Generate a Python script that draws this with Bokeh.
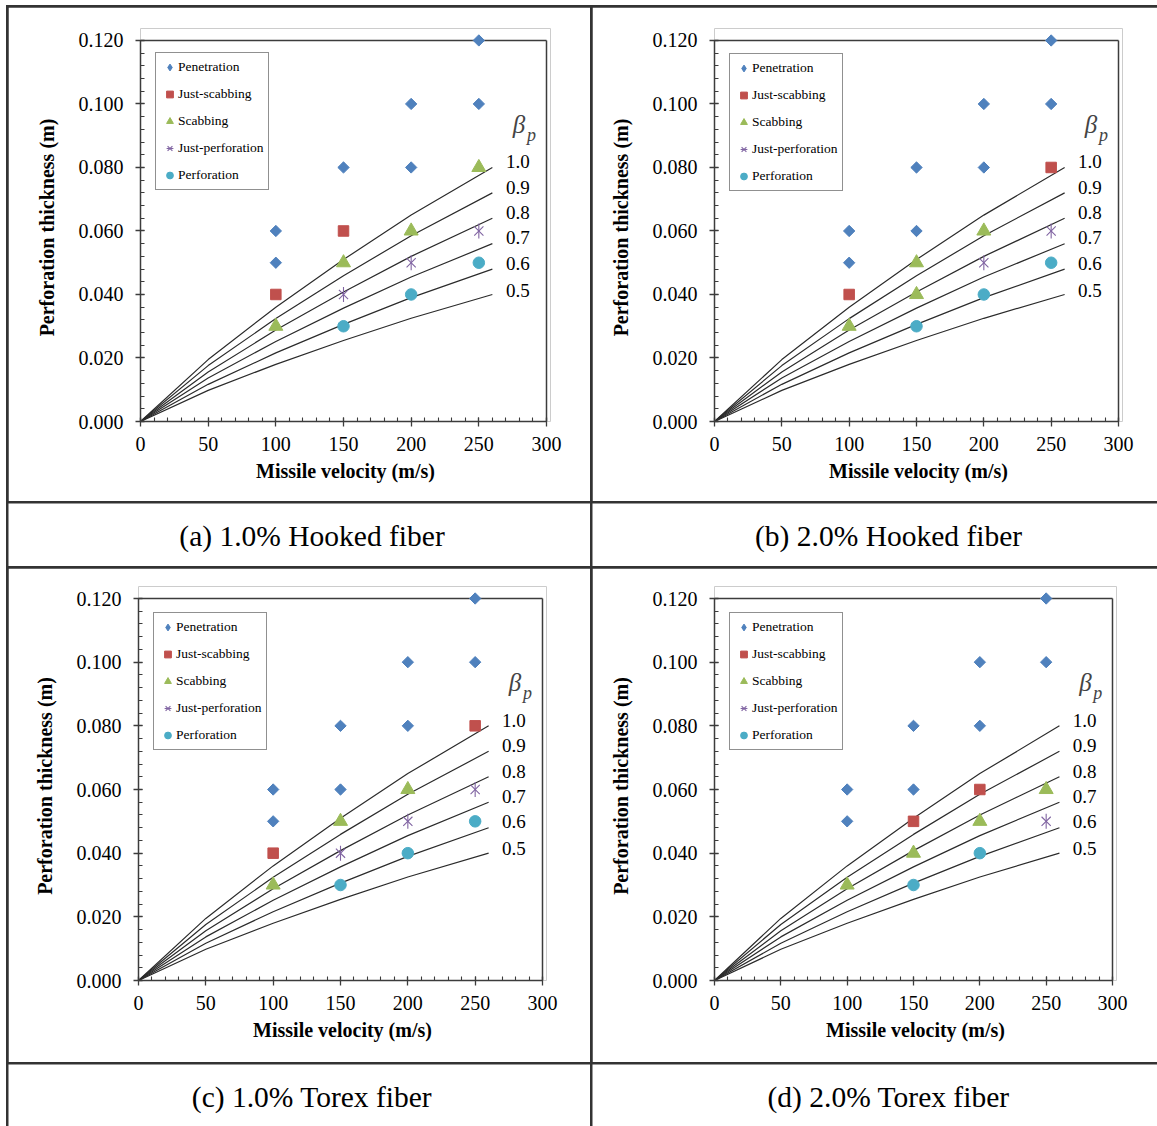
import math
from bokeh.plotting import figure
from bokeh.models import (FixedTicker, PrintfTickFormatter, Legend, LegendItem,
                          Label, Spacer, Range1d)
from bokeh.layouts import row, column
from bokeh.embed import file_html
from bokeh.resources import INLINE
from bokeh.core.properties import value

# ---------------- data ----------------
VEL_TICKS = [0, 50, 100, 150, 200, 250, 300]
THK_TICKS = [0.000, 0.020, 0.040, 0.060, 0.080, 0.100, 0.120]
VEL_MINOR = list(range(0, 301, 10))
THK_MINOR = [i * 0.004 for i in range(31)]

# beta_p curves
CURVE_V = [0, 50, 100, 150, 200, 260]
CURVE_10 = [0, 0.0195, 0.0360, 0.0510, 0.0650, 0.0800]
CURVE_09 = [0, 0.0176, 0.0324, 0.0459, 0.0585, 0.0720]
CURVE_08 = [0, 0.0156, 0.0288, 0.0408, 0.0520, 0.0640]
CURVE_07 = [0, 0.0137, 0.0252, 0.0357, 0.0455, 0.0560]
CURVE_06 = [0, 0.0117, 0.0216, 0.0306, 0.0390, 0.0480]
CURVE_05 = [0, 0.0098, 0.0180, 0.0255, 0.0325, 0.0400]
CURVES = [CURVE_10, CURVE_09, CURVE_08, CURVE_07, CURVE_06, CURVE_05]
BETA_LABELS = ["1.0", "0.9", "0.8", "0.7", "0.6", "0.5"]
BETA_LABEL_Y = [0.0818, 0.0738, 0.0657, 0.0578, 0.0498, 0.0414]

CATEGORIES = ["Penetration", "Just-scabbing", "Scabbing", "Just-perforation", "Perforation"]

PANEL_A = {
    "Penetration": ([100, 100, 150, 200, 200, 250, 250], [0.060, 0.050, 0.080, 0.100, 0.080, 0.120, 0.100]),
    "Just-scabbing": ([100, 150], [0.040, 0.060]),
    "Scabbing": ([100, 150, 200, 250], [0.030, 0.050, 0.060, 0.080]),
    "Just-perforation": ([150, 200, 250], [0.040, 0.050, 0.060]),
    "Perforation": ([150, 200, 250], [0.030, 0.040, 0.050]),
}
PANEL_B = {
    "Penetration": ([100, 100, 150, 150, 200, 200, 250, 250], [0.060, 0.050, 0.080, 0.060, 0.100, 0.080, 0.120, 0.100]),
    "Just-scabbing": ([100, 250], [0.040, 0.080]),
    "Scabbing": ([100, 150, 150, 200], [0.030, 0.050, 0.040, 0.060]),
    "Just-perforation": ([200, 250], [0.050, 0.060]),
    "Perforation": ([150, 200, 250], [0.030, 0.040, 0.050]),
}
PANEL_C = {
    "Penetration": ([100, 100, 150, 150, 200, 200, 250, 250], [0.060, 0.050, 0.080, 0.060, 0.100, 0.080, 0.120, 0.100]),
    "Just-scabbing": ([100, 250], [0.040, 0.080]),
    "Scabbing": ([100, 150, 200], [0.030, 0.050, 0.060]),
    "Just-perforation": ([150, 200, 250], [0.040, 0.050, 0.060]),
    "Perforation": ([150, 200, 250], [0.030, 0.040, 0.050]),
}
PANEL_D = {
    "Penetration": ([100, 100, 150, 150, 200, 200, 250, 250], [0.060, 0.050, 0.080, 0.060, 0.100, 0.080, 0.120, 0.100]),
    "Just-scabbing": ([150, 200], [0.050, 0.060]),
    "Scabbing": ([100, 150, 200, 250], [0.030, 0.040, 0.050, 0.060]),
    "Just-perforation": ([250], [0.050]),
    "Perforation": ([150, 200], [0.030, 0.040]),
}
CAPTIONS = ["(a) 1.0% Hooked fiber", "(b) 2.0% Hooked fiber",
            "(c) 1.0% Torex fiber", "(d) 2.0% Torex fiber"]

# ---------------- styles ----------------
SERIF = "Liberation Serif"
AXIS_COL = "#3c3c3c"
MARKERS = {
    "Penetration": [dict(marker="square", angle=math.pi / 4, size=8, fill_color="#4F81BD", line_color="#4F81BD")],
    "Just-scabbing": [dict(marker="square", angle=0, size=10.5, fill_color="#C0504D", line_color="#C0504D")],
    "Scabbing": [dict(marker="triangle", angle=0, size=14, fill_color="#9BBB59", line_color="#9BBB59")],
    "Just-perforation": [dict(marker="x", angle=0, size=13, line_color="#8064A2", line_width=1.1),
                         dict(marker="dash", angle=math.pi / 2, size=15, line_color="#8064A2", line_width=1.1)],
    "Perforation": [dict(marker="circle", angle=0, size=11.5, fill_color="#4BACC6", line_color="#4BACC6")],
}
# legend glyph (the legend does not rotate markers); drawn beneath the real marks
LEGEND_PROXY = {
    "Penetration": dict(marker="diamond", size=9, fill_color="#4F81BD", line_color="#4F81BD"),
}


def make_panel(data, W, H, L, FW, T, FH):
    pad_top = 12
    pad_right = 4
    b_top = T - pad_top
    f_h = FH + pad_top
    b_bottom = H - b_top - f_h
    f_w = FW + pad_right
    b_right = W - L - f_w
    y_end = THK_TICKS[-1] * f_h / FH
    x_end = VEL_TICKS[-1] * f_w / FW
    p = figure(width=W, height=H, output_backend="svg", toolbar_location=None,
               x_range=Range1d(0, x_end), y_range=Range1d(0, y_end),
               min_border_left=L, min_border_right=b_right,
               min_border_top=b_top, min_border_bottom=b_bottom)
    p.grid.visible = False
    p.outline_line_color = None
    p.background_fill_color = "white"
    p.border_fill_color = "white"

    # frame top / right lines
    p.line([VEL_TICKS[0], VEL_TICKS[-1]], [THK_TICKS[-1], THK_TICKS[-1]], line_color=AXIS_COL, line_width=1.5)
    p.line([VEL_TICKS[-1], VEL_TICKS[-1]], [THK_TICKS[0], THK_TICKS[-1]], line_color=AXIS_COL, line_width=1.5)

    for c in CURVES:
        p.line(CURVE_V, c, line_color="#2b2b2b", line_width=1.2)
    for lab, ly in zip(BETA_LABELS, BETA_LABEL_Y):
        p.add_layout(Label(x=270, y=ly, text=lab, text_font=SERIF, text_font_size="19px",
                           text_baseline="middle", text_align="left", text_color="black"))
    p.add_layout(Label(x=275, y=0.0935, text="β", text_font=SERIF, text_font_size="25px",
                       text_font_style="italic", text_baseline="middle", text_align="left"))
    p.add_layout(Label(x=285.5, y=0.0903, text="p", text_font=SERIF, text_font_size="18px",
                       text_font_style="italic", text_baseline="middle", text_align="left"))

    items = []
    for cat in CATEGORIES:
        xs, ys = data[cat]
        proxy = None
        if cat in LEGEND_PROXY:
            proxy = p.scatter(xs, ys, **LEGEND_PROXY[cat])
        rs = [p.scatter(xs, ys, **m) for m in MARKERS[cat]]
        if proxy is not None:
            rs = [proxy]
        items.append(LegendItem(label=cat, renderers=rs))

    pad = 5
    leg_h = 2 * pad + 5 * 18 + 4 * 9 + 2
    legend = Legend(items=items, location=(15, f_h - (pad_top + 14) - leg_h),
                    padding=pad, spacing=9, label_height=18, glyph_height=18, glyph_width=17,
                    label_standoff=0, label_text_font=SERIF, label_text_font_size="13.5px",
                    label_text_color="black", border_line_color="#222222", border_line_width=1.5,
                    background_fill_color="white", background_fill_alpha=1.0, margin=0)
    p.add_layout(legend)

    for ax in (p.xaxis[0], p.yaxis[0]):
        ax.axis_line_color = AXIS_COL
        ax.axis_line_width = 1.5
        ax.major_tick_line_color = AXIS_COL
        ax.major_tick_line_width = 1.3
        ax.minor_tick_line_color = AXIS_COL
        ax.minor_tick_line_width = 1.1
        ax.major_tick_in = 4
        ax.major_tick_out = 5
        ax.minor_tick_in = 4
        ax.minor_tick_out = 0
        ax.major_label_text_font = SERIF
        ax.major_label_text_font_size = "20px"
        ax.major_label_text_color = "black"
        ax.axis_label_text_font = SERIF
        ax.axis_label_text_font_size = "20px"
        ax.axis_label_text_font_style = "bold"
        ax.axis_label_text_color = "black"
    p.xaxis.ticker = FixedTicker(ticks=VEL_TICKS, minor_ticks=VEL_MINOR)
    p.yaxis.ticker = FixedTicker(ticks=THK_TICKS, minor_ticks=THK_MINOR)
    p.yaxis.formatter = PrintfTickFormatter(format="%.3f")
    p.xaxis.bounds = (VEL_TICKS[0], VEL_TICKS[-1])
    p.yaxis.bounds = (THK_TICKS[0], THK_TICKS[-1])
    p.xaxis.axis_label = "Missile velocity (m/s)"
    p.yaxis.axis_label = "Perforation  thickness (m)"
    p.xaxis.major_label_standoff = 10
    p.yaxis.major_label_standoff = 12
    p.xaxis.axis_label_standoff = 6
    p.yaxis.axis_label_standoff = 18
    return p


def make_caption(text, W, H, cx, cy):
    p = figure(width=W, height=H, output_backend="svg", toolbar_location=None,
               x_range=Range1d(0, 1), y_range=Range1d(0, 1),
               min_border=0, min_border_left=0, min_border_right=0,
               min_border_top=0, min_border_bottom=0)
    p.axis.visible = False
    p.grid.visible = False
    p.outline_line_color = None
    p.background_fill_color = "white"
    p.border_fill_color = "white"
    p.text(x=[cx], y=[cy], text=[text], text_font=value(SERIF), text_font_size="29.5px",
           text_align="center", text_baseline="middle", text_color="black")
    return p


fa = make_panel(PANEL_A, 582, 494, 132, 406, 31, 383)
fb = make_panel(PANEL_B, 565, 494, 122, 404, 33, 382)
fc = make_panel(PANEL_C, 582, 494, 130, 404, 30, 382)
fd = make_panel(PANEL_D, 565, 494, 122, 398, 30, 382)

ca = make_caption(CAPTIONS[0], 582, 63, 0.5215, 0.49)
cb = make_caption(CAPTIONS[1], 565, 63, 0.524, 0.49)
cc = make_caption(CAPTIONS[2], 582, 62, 0.5215, 0.48)
cd = make_caption(CAPTIONS[3], 565, 62, 0.524, 0.48)

G = 2


def hrow(a, b):
    return row(Spacer(width=G, height=10), a, Spacer(width=G, height=10), b, spacing=0)


table = column(Spacer(width=10, height=G), hrow(fa, fb), Spacer(width=10, height=G),
               hrow(ca, cb), Spacer(width=10, height=G), hrow(fc, fd),
               Spacer(width=10, height=G), hrow(cc, cd), spacing=0,
               styles={"background-color": "#333333"})

page = column(Spacer(width=10, height=5), row(Spacer(width=6, height=10), table, spacing=0), spacing=0)

open("out.html", "w").write(file_html(page, INLINE))
